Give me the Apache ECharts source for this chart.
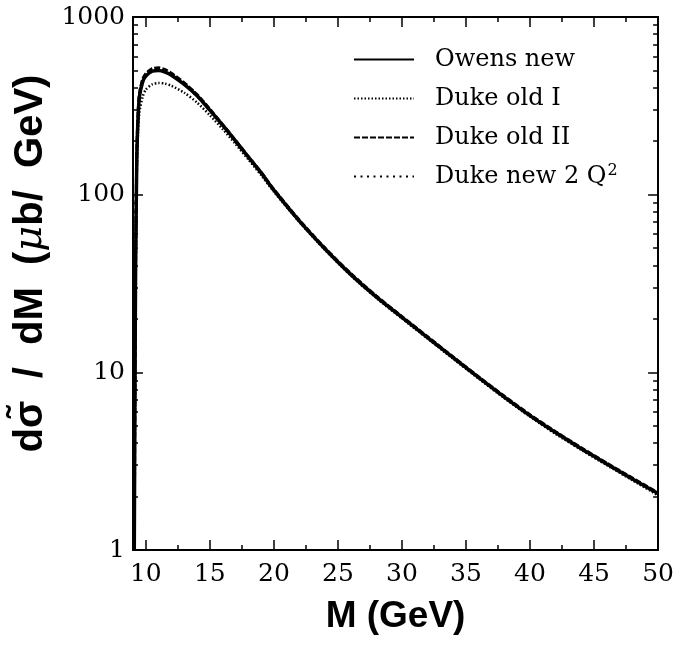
<!DOCTYPE html>
<html><head><meta charset="utf-8">
<script src="https://cdn.jsdelivr.net/npm/echarts@6/dist/echarts.min.js"></script>
<style>html,body{margin:0;padding:0;background:#fff}#c{width:677px;height:648px}</style>
</head><body><div id="c"></div>
<script>
// ---- data ----
const mass       = [9.1, 9.15, 9.2, 9.3, 9.4, 9.5, 9.75, 10, 10.5, 11, 11.5, 12, 13, 14, 15, 16, 17, 18, 19, 20, 22, 24, 26, 28, 30, 32, 34, 36, 38, 40, 42, 44, 46, 48, 50];
const owensNew   = [1, 7, 35, 165, 275, 355, 430, 465, 495, 500, 490, 470, 417, 360, 299, 246, 201, 163, 133, 106, 71, 49.5, 35.6, 26.6, 20.4, 15.7, 12.1, 9.33, 7.26, 5.71, 4.58, 3.72, 3.05, 2.51, 2.08];
const dukeOldI   = [1, 6, 30, 140, 230, 290, 355, 390, 418, 425, 422, 410, 375, 330, 280, 234, 193, 158, 129, 104, 70, 48.8, 35.1, 26.2, 20.1, 15.5, 11.9, 9.2, 7.15, 5.63, 4.5, 3.66, 3.0, 2.47, 2.03];
const dukeOldII  = [1, 8, 40, 175, 290, 370, 445, 480, 512, 518, 506, 482, 426, 366, 303, 248, 202, 164, 133.5, 107, 71.7, 50, 36, 26.9, 20.6, 15.85, 12.2, 9.42, 7.33, 5.77, 4.63, 3.76, 3.08, 2.54, 2.1];
const dukeNew2Q2 = [1, 7, 36, 168, 280, 360, 435, 470, 500, 505, 494, 472, 416, 358, 297, 244, 199, 161, 131.5, 105, 70.5, 49.2, 35.4, 26.4, 20.25, 15.6, 12.0, 9.27, 7.21, 5.67, 4.55, 3.69, 3.03, 2.49, 2.06];
const seriesNames = ['Owens new', 'Duke old I', 'Duke old II', 'Duke new 2 Q²'];
const xMajorTicks = [10, 15, 20, 25, 30, 35, 40, 45, 50];
const xMinorTicks = [12.5, 17.5, 22.5, 27.5, 32.5, 37.5, 42.5, 47.5];
const yMajorTicks = [1, 10, 100, 1000];
const yMinorTicks = [2,3,4,5,6,7,8,9,20,30,40,50,60,70,80,90,200,300,400,500,600,700,800,900];

const pairs = ys => mass.map((m, i) => [m, ys[i]]);
const serif = 'DejaVu Serif';
const black = '#000';

function xAx(pos, ticks, len, main) {
  return {
    type: 'value', min: 9, max: 50, position: pos,
    axisLine: { show: main, onZero: false, lineStyle: { color: black, width: 2 } },
    axisTick: { show: true, inside: true, length: len, customValues: ticks, lineStyle: { color: black, width: 1.5 } },
    axisLabel: (main && pos === 'bottom') ? { show: true, customValues: ticks, fontFamily: serif, fontSize: 25, color: black, margin: 12, formatter: v => String(v) } : { show: false },
    splitLine: { show: false }
  };
}
function yAx(pos, ticks, len, main) {
  return {
    type: 'log', logBase: 10, min: 1, max: 1000, position: pos,
    axisLine: { show: main, onZero: false, lineStyle: { color: black, width: 2 } },
    axisTick: { show: true, inside: true, length: len, customValues: ticks, lineStyle: { color: black, width: 1.5 } },
    axisLabel: (main && pos === 'left') ? { show: true, customValues: ticks, fontFamily: serif, fontSize: 25, color: black, margin: 8, formatter: v => String(Math.round(v)) } : { show: false },
    splitLine: { show: false }
  };
}

const xAxes = [xAx('bottom', xMajorTicks, 10, true), xAx('bottom', xMinorTicks, 5, false), xAx('top', xMajorTicks, 10, true), xAx('top', xMinorTicks, 5, false)];
Object.assign(xAxes[0], {
  name: 'M (GeV)', nameLocation: 'middle', nameGap: 48,
  nameTextStyle: { fontFamily: 'Liberation Sans', fontWeight: 'bold', fontSize: 37, color: black }
});
const yAxes = [yAx('left', yMajorTicks, 10, true), yAx('left', yMinorTicks, 5, false), yAx('right', yMajorTicks, 10, true), yAx('right', yMinorTicks, 5, false)];
Object.assign(yAxes[0], {
  name: '{a|d}{a|σ̃}{a|  /  dM  (}{mu|μ}{a|b/  GeV)}', nameLocation: 'middle', nameGap: 74, nameRotate: 90,
  nameTextStyle: {
    fontFamily: 'Liberation Sans', fontWeight: 'bold', fontSize: 40, color: black, padding: [0, 0, 0, 40],
    rich: {
      a: { fontFamily: 'Liberation Sans', fontWeight: 'bold', fontSize: 40, color: black },
      mu: { fontFamily: serif, fontStyle: 'italic', fontWeight: 'normal', fontSize: 40, color: black }
    }
  }
});

const styles = [
  { type: 'solid', width: 3.5 },
  { type: [1.5, 2], width: 2.5 },
  { type: [6, 2], width: 3 },
  { type: [2, 4.5], width: 2.5 }
];
const datas = [owensNew, dukeOldI, dukeOldII, dukeNew2Q2];

const chart = echarts.init(document.getElementById('c'), null, { renderer: 'canvas' });
chart.setOption({
  animation: false,
  backgroundColor: '#fff',
  grid: { left: 133, right: 17, top: 17, bottom: 98, containLabel: false },
  xAxis: xAxes,
  yAxis: yAxes,
  legend: {
    orient: 'vertical', left: 353, top: 46, itemWidth: 60, itemHeight: 12, itemGap: 12,
    selectedMode: false, padding: 0,
    itemStyle: { opacity: 0 },
    data: seriesNames,
    formatter: n => n === 'Duke new 2 Q²' ? 'Duke new 2 Q{sup|2}' : n,
    textStyle: {
      fontFamily: serif, fontSize: 24, color: black, lineHeight: 27, padding: [0, 0, 0, 16],
      rich: { sup: { fontFamily: serif, fontSize: 16, color: black, verticalAlign: 'top', lineHeight: 27, padding: [0, 0, 12, 1] } }
    }
  },
  series: seriesNames.map((n, i) => ({
    name: n, type: 'line', data: pairs(datas[i]), xAxisIndex: 0, yAxisIndex: 0,
    showSymbol: false, symbol: 'none', smooth: 0.25,
    lineStyle: Object.assign({ color: black }, styles[i]),
    itemStyle: { color: black }
  }))
});
</script></body></html>
